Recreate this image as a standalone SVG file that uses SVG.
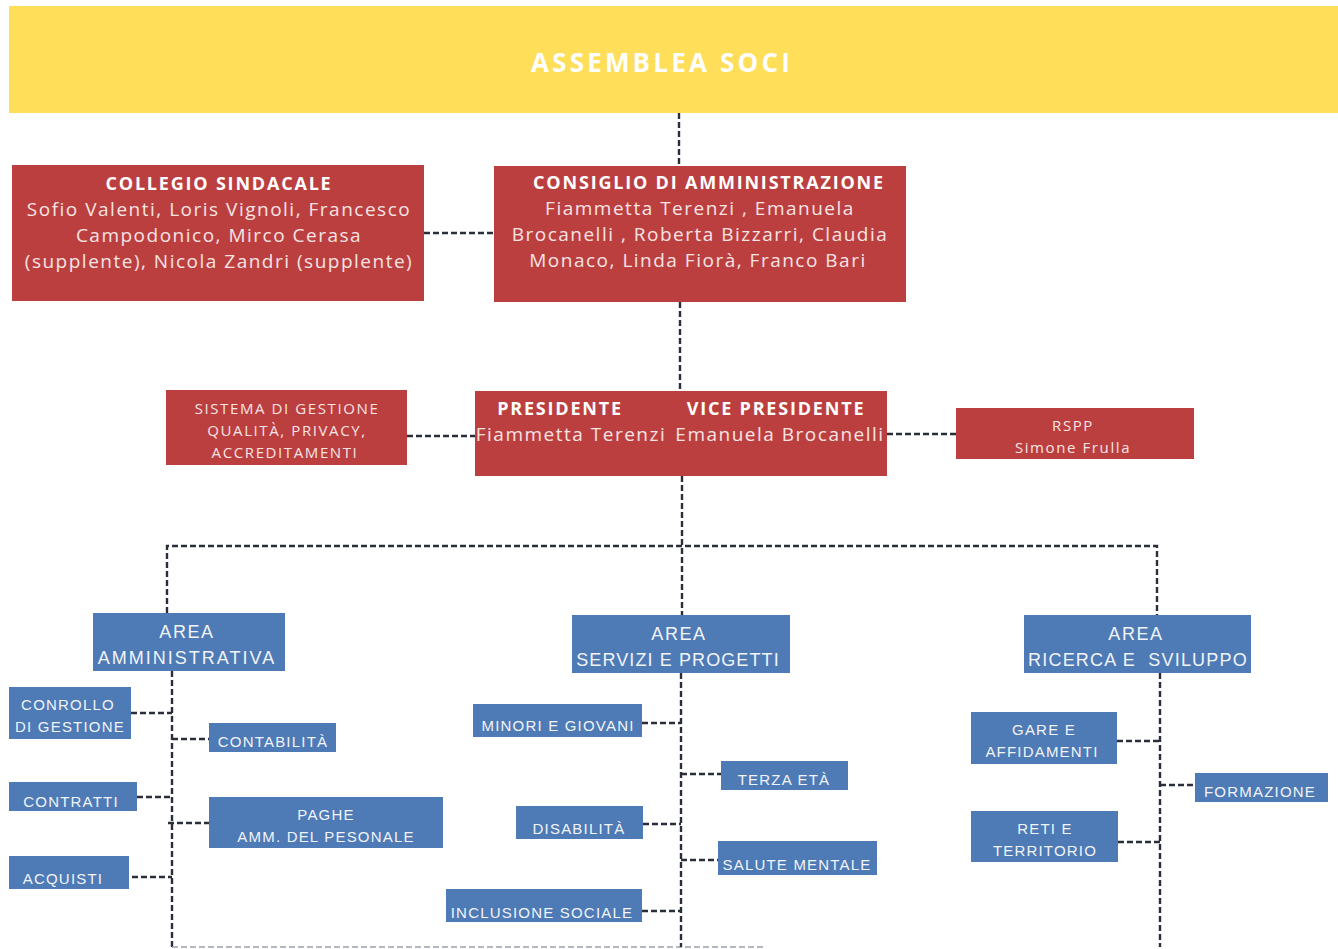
<svg xmlns="http://www.w3.org/2000/svg" width="1338" height="949" viewBox="0 0 1338 949">
<style>
.red{fill:#BC3F40}
.blue{fill:#4E7AB5}
.t{font-family:"Open Sans","Noto Sans","Liberation Sans",sans-serif;fill:#ffffff;text-anchor:middle}
.rt{font-size:19px;letter-spacing:1.5px;fill:#F6E4E4}
.rb{font-size:18px;font-weight:bold;letter-spacing:1.8px}
.rs{font-size:15px;letter-spacing:1.6px;fill:#F6E4E4}
.bt{font-family:"Liberation Sans",Arial,sans-serif;fill:#F1F4FA;text-anchor:middle;font-size:15px;letter-spacing:1.2px}
.bh{font-size:18px;letter-spacing:1.6px}
.c{fill:none;stroke:#2A2E3B;stroke-width:2.4;stroke-dasharray:6 3}
.cl{fill:none;stroke:#9AA0AC;stroke-width:1.5;stroke-dasharray:6 3}
</style>
<rect width="1338" height="949" fill="#ffffff"/>
<g id="connectors">
<path class="c" d="M679 113V166"/>
<path class="c" d="M424 233H494"/>
<path class="c" d="M680 302V391"/>
<path class="c" d="M407 436H475"/>
<path class="c" d="M887 434H956"/>
<path class="c" d="M682 476V615"/>
<path class="c" d="M167 613V546H1157V615"/>
<path class="c" d="M172 671V947"/>
<path class="cl" d="M172 947H765"/>
<path class="c" d="M131 713H172"/>
<path class="c" d="M172 739H209"/>
<path class="c" d="M137 797H172"/>
<path class="c" d="M168 823H209"/>
<path class="c" d="M132 877H172"/>
<path class="c" d="M681 673V947"/>
<path class="c" d="M642 723H681"/>
<path class="c" d="M681 774H721"/>
<path class="c" d="M643 824H681"/>
<path class="c" d="M681 860H718"/>
<path class="c" d="M642 911H681"/>
<path class="c" d="M1160 673V947"/>
<path class="c" d="M1117 741H1160"/>
<path class="c" d="M1160 785H1195"/>
<path class="c" d="M1118 842H1160"/>
</g>
<g id="assemblea">
<rect x="9" y="6" width="1329" height="107" fill="#FFDE59"/>
<text class="t" x="662" y="72" style="font-size:26px;font-weight:bold;letter-spacing:3.2px">ASSEMBLEA SOCI</text>
</g>
<g id="collegio">
<rect class="red" x="12" y="165" width="412" height="136"/>
<text class="t rb" x="219" y="190">COLLEGIO SINDACALE</text>
<text class="t rt" x="219" y="216">Sofio Valenti, Loris Vignoli, Francesco</text>
<text class="t rt" x="219" y="242">Campodonico, Mirco Cerasa</text>
<text class="t rt" x="219" y="268">(supplente), Nicola Zandri (supplente)</text>
</g>
<g id="consiglio">
<rect class="red" x="494" y="166" width="412" height="136"/>
<text class="t rb" x="709" y="189">CONSIGLIO DI AMMINISTRAZIONE</text>
<text class="t rt" x="700" y="215">Fiammetta Terenzi , Emanuela</text>
<text class="t rt" x="700" y="241">Brocanelli , Roberta Bizzarri, Claudia</text>
<text class="t rt" x="698" y="267">Monaco, Linda Fiorà, Franco Bari</text>
</g>
<g id="sistema">
<rect class="red" x="166" y="390" width="241" height="75"/>
<text class="t rs" x="287" y="414">SISTEMA DI GESTIONE</text>
<text class="t rs" x="287" y="436">QUALITÀ, PRIVACY,</text>
<text class="t rs" x="285" y="458">ACCREDITAMENTI</text>
</g>
<g id="presidente">
<rect class="red" x="475" y="391" width="412" height="85"/>
<text class="t rb" x="560" y="415">PRESIDENTE</text>
<text class="t rb" x="776" y="415">VICE PRESIDENTE</text>
<text class="t rt" x="571" y="441">Fiammetta Terenzi</text>
<text class="t rt" x="780" y="441">Emanuela Brocanelli</text>
</g>
<g id="rspp">
<rect class="red" x="956" y="408" width="238" height="51"/>
<text class="t rs" x="1073" y="431">RSPP</text>
<text class="t rs" x="1073" y="453">Simone Frulla</text>
</g>
<g id="area-amministrativa">
<rect class="blue" x="93" y="613" width="192" height="58"/>
<text class="bt bh" x="187" y="638">AREA</text>
<text class="bt bh" x="187" y="664" style="letter-spacing:2px">AMMINISTRATIVA</text>
</g>
<g id="area-servizi">
<rect class="blue" x="572" y="615" width="218" height="58"/>
<text class="bt bh" x="679" y="640">AREA</text>
<text class="bt bh" x="678" y="666" style="letter-spacing:1.1px">SERVIZI E PROGETTI</text>
</g>
<g id="area-ricerca">
<rect class="blue" x="1024" y="615" width="227" height="58"/>
<text class="bt bh" x="1136" y="640">AREA</text>
<text class="bt bh" x="1138" y="666" style="letter-spacing:1.2px">RICERCA E&#160; SVILUPPO</text>
</g>
<g id="controllo">
<rect class="blue" x="9" y="687" width="122" height="52"/>
<text class="bt" x="68" y="710">CONROLLO</text>
<text class="bt" x="70" y="732">DI GESTIONE</text>
</g>
<g id="contabilita">
<rect class="blue" x="209" y="723" width="127" height="29"/>
<text class="bt" x="273" y="747">CONTABILITÀ</text>
</g>
<g id="contratti">
<rect class="blue" x="9" y="782" width="128" height="29"/>
<text class="bt" x="71" y="807">CONTRATTI</text>
</g>
<g id="paghe">
<rect class="blue" x="209" y="797" width="234" height="51"/>
<text class="bt" x="326" y="820">PAGHE</text>
<text class="bt" x="326" y="842">AMM. DEL PESONALE</text>
</g>
<g id="acquisti">
<rect class="blue" x="9" y="856" width="120" height="33"/>
<text class="bt" x="63" y="884">ACQUISTI</text>
</g>
<g id="minori">
<rect class="blue" x="473" y="704" width="169" height="33"/>
<text class="bt" x="558" y="731">MINORI E GIOVANI</text>
</g>
<g id="terza-eta">
<rect class="blue" x="721" y="761" width="127" height="29"/>
<text class="bt" x="784" y="785">TERZA ETÀ</text>
</g>
<g id="disabilita">
<rect class="blue" x="516" y="806" width="127" height="33"/>
<text class="bt" x="579" y="834">DISABILITÀ</text>
</g>
<g id="salute-mentale">
<rect class="blue" x="718" y="841" width="159" height="34"/>
<text class="bt" x="797" y="870">SALUTE MENTALE</text>
</g>
<g id="inclusione">
<rect class="blue" x="446" y="889" width="196" height="33"/>
<text class="bt" x="542" y="918">INCLUSIONE SOCIALE</text>
</g>
<g id="gare">
<rect class="blue" x="971" y="712" width="146" height="52"/>
<text class="bt" x="1044" y="735">GARE E</text>
<text class="bt" x="1042" y="757">AFFIDAMENTI</text>
</g>
<g id="formazione">
<rect class="blue" x="1195" y="773" width="133" height="29"/>
<text class="bt" x="1260" y="797">FORMAZIONE</text>
</g>
<g id="reti">
<rect class="blue" x="971" y="811" width="147" height="51"/>
<text class="bt" x="1045" y="834">RETI E</text>
<text class="bt" x="1045" y="856">TERRITORIO</text>
</g>
</svg>
